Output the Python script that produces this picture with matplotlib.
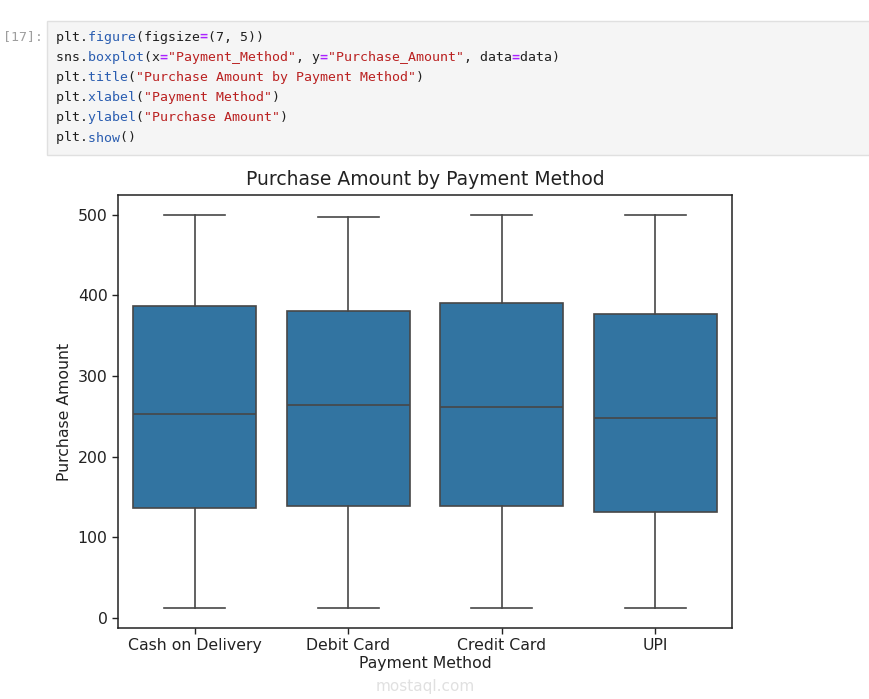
import matplotlib.pyplot as plt
from matplotlib.patches import Rectangle

# box statistics
methods = ["Cash on Delivery", "Debit Card", "Credit Card", "UPI"]
whisker_low = [13, 12, 12, 12]
q1 = [136, 139, 139, 132]
median = [253, 264, 262, 248]
q3 = [387, 380, 390, 377]
whisker_high = [500, 497, 500, 500]

W, H = 870, 699
fig = plt.figure(figsize=(W / 100, H / 100), dpi=100)
renderer = fig.canvas.get_renderer()

# --- notebook code cell ---
fig.patches.append(Rectangle((47 / W, 1 - 155 / H), (W - 47) / W, 134 / H,
                             transform=fig.transFigure, facecolor="#f5f5f5",
                             edgecolor="#e0e0e0", linewidth=1))

BLK, BLU, RED, PUR = "#202020", "#2a5db0", "#ba2121", "#aa22ff"
code = [
    [("plt.", BLK), ("figure", BLU), ("(figsize", BLK), ("=", PUR), ("(7, 5))", BLK)],
    [("sns.", BLK), ("boxplot", BLU), ("(x", BLK), ("=", PUR), ('"Payment_Method"', RED),
     (", y", BLK), ("=", PUR), ('"Purchase_Amount"', RED), (", data", BLK), ("=", PUR),
     ("data)", BLK)],
    [("plt.", BLK), ("title", BLU), ("(", BLK), ('"Purchase Amount by Payment Method"', RED), (")", BLK)],
    [("plt.", BLK), ("xlabel", BLU), ("(", BLK), ('"Payment Method"', RED), (")", BLK)],
    [("plt.", BLK), ("ylabel", BLU), ("(", BLK), ('"Purchase Amount"', RED), (")", BLK)],
    [("plt.", BLK), ("show", BLU), ("()", BLK)],
]

# size the mono font so the longest line spans 56..562 px as in the screenshot
longest = "".join(t for t, _ in code[1])
probe = fig.text(0, 0, longest, family="DejaVu Sans Mono", fontsize=10)
mono_size = 10 * (562 - 56) / probe.get_window_extent(renderer).width
probe.remove()

fig.text(3 / W, 1 - 37 / H, "[17]:", family="DejaVu Sans Mono", fontsize=mono_size,
         color="#9e9e9e", va="center")

# one full-width layer per colour, other characters blanked, so they line up
for i, line in enumerate(code):
    y = 1 - (37 + i * 20.2) / H
    for colour in (BLK, BLU, RED, PUR):
        layer = "".join(t if c == colour else " " * len(t) for t, c in line)
        if layer.strip():
            fig.text(56 / W, y, layer, family="DejaVu Sans Mono", fontsize=mono_size,
                     color=colour, va="center",
                     fontweight="bold" if colour == PUR else "normal")

# --- the boxplot ---
ax = fig.add_axes([118 / W, 1 - 628 / H, (732 - 118) / W, (628 - 195) / H])
stats = [dict(whislo=lo, q1=a, med=m, q3=b, whishi=hi, fliers=[])
         for lo, a, m, b, hi in zip(whisker_low, q1, median, q3, whisker_high)]
line = dict(color="#474747", linewidth=1.2)
ax.bxp(stats, positions=range(len(methods)), widths=0.8, patch_artist=True,
       boxprops=dict(facecolor="#3274a1", edgecolor="#474747", linewidth=1.2),
       medianprops=line, whiskerprops=line, capprops=line)
ax.set_xlim(-0.5, len(methods) - 0.5)
ax.set_xticks(range(len(methods)))
ax.set_xticklabels(methods)
ax.set_yticks([0, 100, 200, 300, 400, 500])
ax.tick_params(labelsize=11.3, length=4, width=1, colors="#222222")
for s in ax.spines.values():
    s.set_linewidth(1.1)
    s.set_color("#222222")
ax.set_title("Purchase Amount by Payment Method", fontsize=13.5, color="#222222", pad=7)
ax.set_xlabel("Payment Method", fontsize=11.3, color="#222222", labelpad=2)
ax.set_ylabel("Purchase Amount", fontsize=11.3, color="#222222")

fig.text(425 / W, 1 - 686 / H, "mostaql.com", fontsize=11, color="#cccccc",
         alpha=0.6, ha="center", va="center")

fig.savefig("out.png", dpi=100)
